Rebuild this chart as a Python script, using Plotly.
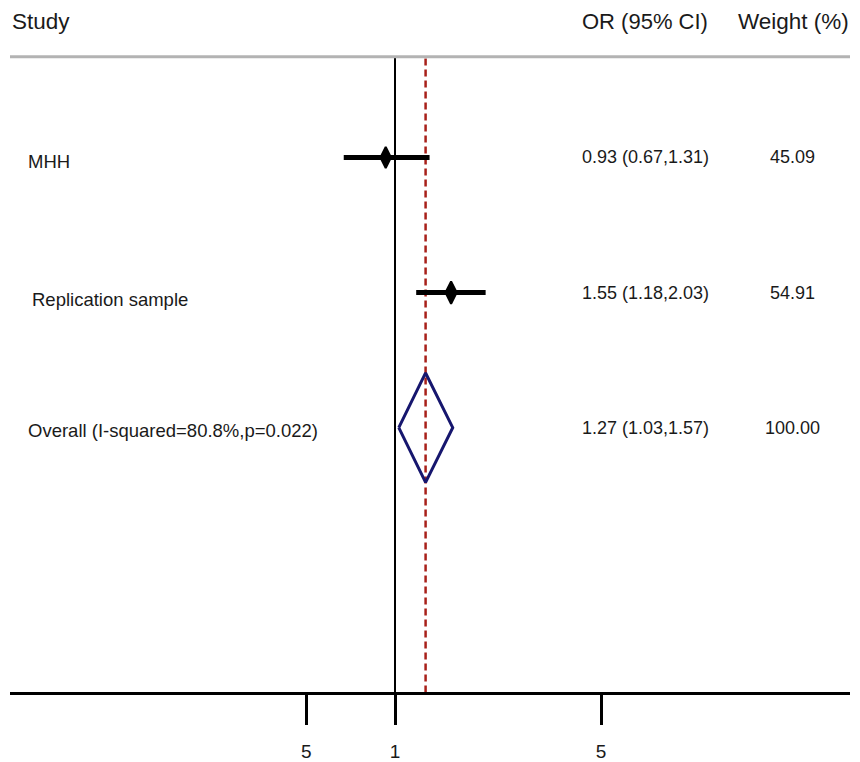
import math
import plotly.graph_objects as go

# ---- data ----
studies = ["MHH", "Replication sample", "Overall (I-squared=80.8%,p=0.022)"]
or_val = [0.93, 1.55, 1.27]
ci_low = [0.67, 1.18, 1.03]
ci_high = [1.31, 2.03, 1.57]
weights = ["45.09", "54.91", "100.00"]
or_text = ["0.93 (0.67,1.31)", "1.55 (1.18,2.03)", "1.27 (1.03,1.57)"]
rows = [3, 2, 1]
tick_vals = [0.5, 1, 5]
tick_text = ["5", "1", "5"]
headers = ["Study", "OR (95% CI)", "Weight (%)"]

# ---- layout helpers ----
W, H = 860, 762
x_left_px, x_right_px = 10, 850
one_px = 395
ppd = 206 / math.log10(5)          # pixels per decade
xr = [(x_left_px - one_px) / ppd, (x_right_px - one_px) / ppd]
axis_px = 697
row1_px = 430.5
row_step = 136.0
yr = [1 - (axis_px - row1_px) / row_step, 1 + row1_px / row_step]
top_line_v = 1 + (row1_px - 57) / row_step
header_v = 1 + (row1_px - 22) / row_step


def px_to_paper(px):
    return px / W


FONT = "Liberation Sans, Arial, Helvetica, sans-serif"
fig = go.Figure()

# null line at OR = 1
fig.add_trace(go.Scatter(x=[1, 1], y=[yr[0], top_line_v], mode="lines",
                         line=dict(color="black", width=2), hoverinfo="skip"))
# pooled estimate dashed line
fig.add_trace(go.Scatter(x=[or_val[2], or_val[2]], y=[yr[0], top_line_v], mode="lines",
                         line=dict(color="#a8201a", width=2.5, dash="7px,4px"), hoverinfo="skip"))

# study CIs and point estimates
for i in range(2):
    fig.add_trace(go.Scatter(x=[ci_low[i], ci_high[i]], y=[rows[i], rows[i]], mode="lines",
                             line=dict(color="black", width=5), hoverinfo="skip"))
fig.add_trace(go.Scatter(x=or_val[:2], y=rows[:2], mode="markers",
                         marker=dict(symbol="diamond-tall", size=[15, 16], color="black",
                                     opacity=1, line=dict(color="black", width=2)),
                         hoverinfo="skip"))

# overall diamond
h = 0.405
fig.add_trace(go.Scatter(
    x=[ci_low[2], or_val[2], ci_high[2], or_val[2], ci_low[2]],
    y=[rows[2], rows[2] + h, rows[2], rows[2] - h, rows[2]],
    mode="lines", fill="toself", fillcolor="rgba(255,255,255,0)",
    line=dict(color="#16166e", width=3), hoverinfo="skip"))

# top header rule
fig.add_shape(type="line", xref="paper", yref="y",
              x0=px_to_paper(x_left_px), x1=px_to_paper(x_right_px),
              y0=top_line_v, y1=top_line_v, line=dict(color="#b3b3b3", width=3))

ann = []
# headers
ann.append(dict(x=px_to_paper(10), y=header_v, text=headers[0], xanchor="left",
                font=dict(size=22.5)))
ann.append(dict(x=px_to_paper(580), y=header_v, text=headers[1], xanchor="left",
                font=dict(size=22)))
ann.append(dict(x=px_to_paper(851), y=header_v, text=headers[2], xanchor="right",
                font=dict(size=22.5)))
label_x = [26, 30, 26]
label_dy = [-0.03, -0.05, -0.02]
for i in range(3):
    ann.append(dict(x=px_to_paper(label_x[i]), y=rows[i] + label_dy[i], text=studies[i],
                    xanchor="left", font=dict(size=18.5)))
    ann.append(dict(x=px_to_paper(580), y=rows[i], text=or_text[i], xanchor="left",
                    font=dict(size=18)))
    ann.append(dict(x=px_to_paper(792), y=rows[i], text=weights[i], xanchor="center",
                    font=dict(size=18)))
for a in ann:
    a.update(xref="paper", yref="y", showarrow=False, yanchor="middle")
    a["font"].update(family=FONT, color="#1a1a1a")

fig.update_layout(
    width=W, height=H,
    margin=dict(l=0, r=0, t=0, b=0),
    paper_bgcolor="white", plot_bgcolor="white",
    showlegend=False,
    annotations=ann,
    font=dict(family=FONT, color="#1a1a1a"),
    xaxis=dict(type="log", range=xr,
               domain=[x_left_px / W, x_right_px / W],
               showgrid=False, zeroline=False,
               showline=True, linecolor="black", linewidth=3,
               ticks="outside", ticklen=30, tickwidth=2.5, tickcolor="black",
               tickvals=tick_vals, ticktext=tick_text,
               tickfont=dict(size=19, family=FONT, color="#1a1a1a"),
               ticklabelstandoff=10, fixedrange=True),
    yaxis=dict(range=yr, domain=[(H - axis_px) / H, 1],
               showgrid=False, zeroline=False, showline=False,
               showticklabels=False, ticks="", fixedrange=True),
)

fig.write_html("out.html")
